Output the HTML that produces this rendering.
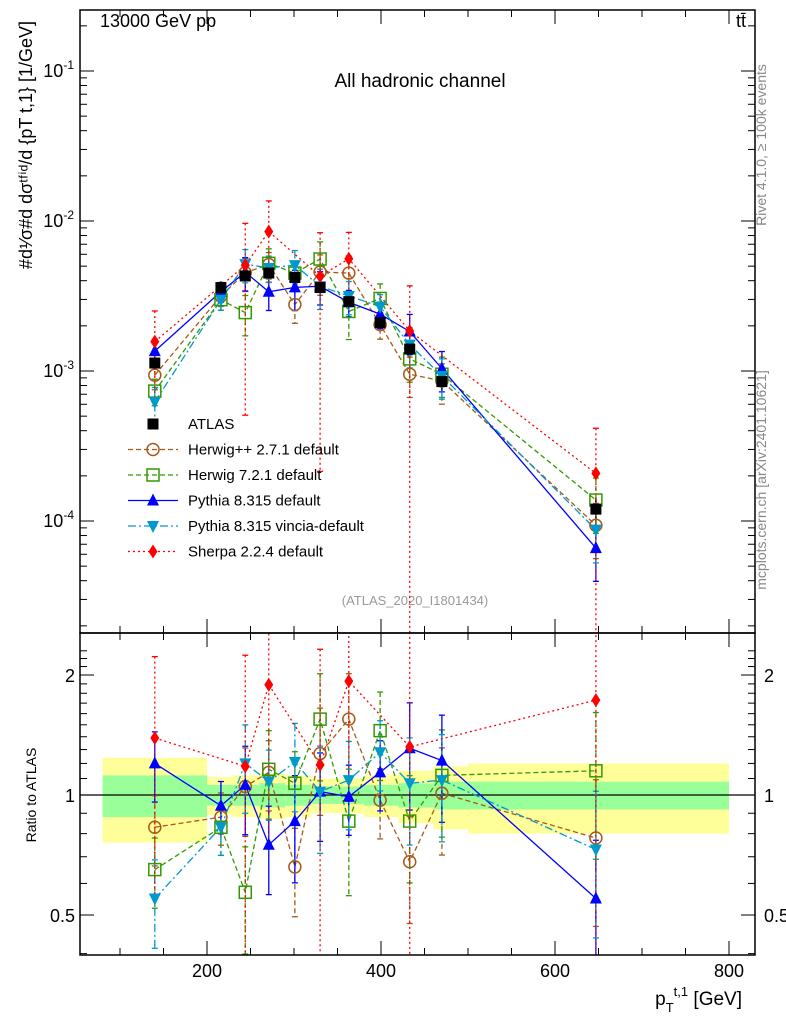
<!DOCTYPE html>
<html><head><meta charset="utf-8"><style>
html,body{margin:0;background:#fff;width:786px;height:1024px;overflow:hidden}
svg{font-family:"Liberation Sans",sans-serif;display:block}
</style></head><body>
<svg id="c" width="786" height="1024" xmlns="http://www.w3.org/2000/svg">
<text x="100" y="27" font-size="18">13000 GeV pp</text>
<text x="736" y="27" font-size="18">tt̄</text>
<text x="420" y="87" font-size="19" text-anchor="middle">All hadronic channel</text>
<text x="415" y="605" font-size="13" fill="#999" text-anchor="middle">(ATLAS_2020_I1801434)</text>
<text transform="translate(766,145) rotate(-90)" font-size="14" fill="#888" text-anchor="middle">Rivet 4.1.0, ≥ 100k events</text>
<text transform="translate(766,480) rotate(-90)" font-size="14" fill="#888" text-anchor="middle">mcplots.cern.ch [arXiv:2401.10621]</text>
<text transform="translate(32,145) rotate(-90)" font-size="18" text-anchor="middle">#d¹⁄σ#d dσᵗᶠⁱᵈ/d {pT t,1} [1/GeV]</text>
<text transform="translate(36,795) rotate(-90)" font-size="14" text-anchor="middle">Ratio to ATLAS</text>
<text x="742" y="1005" font-size="19" text-anchor="end">p<tspan font-size="13" dy="7">T</tspan><tspan font-size="13" dy="-16">t,1</tspan><tspan dy="9"> [GeV]</tspan></text>
<g id="g"></g>
</svg>
<script>
const xs=[140,216,244,271,301,330,363,399,433,470,647];
const atlas=[1.13e-3,3.6e-3,4.3e-3,4.5e-3,4.2e-3,3.6e-3,2.9e-3,2.1e-3,1.4e-3,8.5e-4,1.2e-4];
const atlasErr=[0.1,0.1,0.1,0.08,0.08,0.08,0.08,0.08,0.1,0.12,0.2];
const rHerwigpp=[0.83,0.88,1.05,1.14,0.66,1.27,1.55,0.97,0.68,1.01,0.78];
const rHerwig7=[0.65,0.83,0.57,1.16,1.07,1.55,0.86,1.45,0.86,1.12,1.15];
const rPythia=[1.20,0.94,1.06,0.75,0.86,1.02,0.99,1.14,1.31,1.22,0.55];
const rVincia=[0.55,0.83,1.20,1.08,1.21,1.02,1.09,1.28,1.07,1.09,0.73];
const rSherpa=[1.39,null,1.18,1.89,null,1.19,1.93,null,1.32,null,1.73];
const eHerwigpp=[0.2,0.15,0.25,0.2,0.25,0.3,0.3,0.2,0.3,0.3,0.4];
const eHerwig7=[0.2,0.15,0.3,0.25,0.2,0.3,0.35,0.25,0.3,0.3,0.4];
const ePythia=[0.2,0.15,0.25,0.25,0.3,0.25,0.2,0.2,0.3,0.3,0.4];
const eVincia=[0.25,0.15,0.25,0.2,0.25,0.3,0.25,0.2,0.3,0.3,0.4];
const eSherpa=[0.6,0,0.9,0.6,0,0.95,0.5,0,1.0,0,1.0];
const bandEdges=[80,200,230,260,290,320,350,380,420,460,500,800];
const bandInner=[0.12,0.06,0.06,0.07,0.06,0.05,0.05,0.06,0.07,0.08,0.08];
const bandOuter=[0.24,0.11,0.12,0.13,0.12,0.10,0.10,0.12,0.15,0.18,0.2];
const xTicks=[200,400,600,800];
const ratioTicks=[0.5,1,2];

const NS="http://www.w3.org/2000/svg",G=document.getElementById('g');
const L=80,R=755,T=10,MB=633,B=955;
const X=v=>207+(v-200)*0.87;
const Y=v=>71-(Math.log10(v)+1)*150;
const YR=r=>795-Math.log2(r)*120;
function el(t,a,p){const e=document.createElementNS(NS,t);for(const k in a)e.setAttribute(k,a[k]);(p||G).appendChild(e);return e;}
for(let i=0;i<bandInner.length;i++){
 const x0=X(bandEdges[i]),x1=X(bandEdges[i+1]);
 const o=el('rect',{x:x0,y:YR(1+bandOuter[i]),width:x1-x0,height:YR(1-bandOuter[i])-YR(1+bandOuter[i]),fill:'#ffff99'});
 
 
 const n=el('rect',{x:x0,y:YR(1+bandInner[i]),width:x1-x0,height:YR(1-bandInner[i])-YR(1+bandInner[i]),fill:'#99ff99'});
 
 
}
el('line',{x1:L,x2:R,y1:795,y2:795,stroke:'#000','stroke-width':1.2});
const ser=[
 {n:'herwigpp',r:rHerwigpp,e:eHerwigpp,c:'#a65a1a',d:'5,3',m:'circle',lab:'Herwig++ 2.7.1 default'},
 {n:'herwig7',r:rHerwig7,e:eHerwig7,c:'#339900',d:'5,3',m:'square',lab:'Herwig 7.2.1 default'},
 {n:'pythia',r:rPythia,e:ePythia,c:'#0000ff',d:'',m:'up',lab:'Pythia 8.315 default'},
 {n:'vincia',r:rVincia,e:eVincia,c:'#0099cc',d:'8,3,2,3',m:'down',lab:'Pythia 8.315 vincia-default'},
 {n:'sherpa',r:rSherpa,e:eSherpa,c:'#ff0000',d:'2,3',m:'diamond',lab:'Sherpa 2.2.4 default'}];
function mark(m,x,y,c,name){
 let e;
 if(m=='circle')e=el('circle',{cx:x,cy:y,r:6,fill:'none',stroke:c,'stroke-width':1.5});
 else if(m=='square')e=el('rect',{x:x-6,y:y-6,width:12,height:12,fill:'none',stroke:c,'stroke-width':1.5});
 else if(m=='fsquare')e=el('rect',{x:x-5.5,y:y-5.5,width:11,height:11,fill:c});
 else if(m=='up')e=el('path',{d:`M${x},${y-7}L${x+6},${y+5}L${x-6},${y+5}Z`,fill:c});
 else if(m=='down')e=el('path',{d:`M${x},${y+7}L${x+6},${y-5}L${x-6},${y-5}Z`,fill:c});
 else e=el('path',{d:`M${x},${y-7}L${x+4.5},${y}L${x},${y+7}L${x-4.5},${y}Z`,fill:c});
 
 
}
const clipM=el('clipPath',{id:'cm'});el('rect',{x:L,y:T,width:R-L,height:MB-T},clipM);
const clipR=el('clipPath',{id:'cr'});el('rect',{x:L,y:MB,width:R-L,height:B-MB},clipR);
const gm=el('g',{'clip-path':'url(#cm)'}),gr=el('g',{'clip-path':'url(#cr)'});
atlas.forEach((v,i)=>{const x=X(xs[i]);el('line',{x1:x,x2:x,y1:Y(v*(1+atlasErr[i])),y2:Y(v*(1-atlasErr[i])),stroke:'#000','stroke-width':1.5},gm);});
ser.forEach(s=>{
 for(const [g,f] of [[gm,(i)=>Y(atlas[i]*s.r[i])],[gr,(i)=>YR(s.r[i])]]){
  let pts=[];
  s.r.forEach((r,i)=>{if(r==null)return;const x=X(xs[i]);pts.push(x+','+f(i));
   const up=r*(1+s.e[i]),dn=Math.max(r*(1-s.e[i]),0.01);
   const y1=g===gm?Y(atlas[i]*up):YR(up),y2=g===gm?Y(atlas[i]*dn):YR(dn);
   el('line',{x1:x,x2:x,y1:y1,y2:y2,stroke:s.c,'stroke-width':1.3,'stroke-dasharray':s.d},g);
   el('line',{x1:x-3,x2:x+3,y1:y1,y2:y1,stroke:s.c,'stroke-width':1.3},g);
   el('line',{x1:x-3,x2:x+3,y1:y2,y2:y2,stroke:s.c,'stroke-width':1.3},g);});
  const pl=el('polyline',{points:pts.join(' '),fill:'none',stroke:s.c,'stroke-width':1.3,'stroke-dasharray':s.d},g);
  
  
  s.r.forEach((r,i)=>{if(r==null)return;mark(s.m,X(xs[i]),f(i),s.c,s.n+'-point');});
 }
});
atlas.forEach((v,i)=>mark('fsquare',X(xs[i]),Y(v),'#000','atlas-point'));
const lg=[['ATLAS','#000','','fsquare'],...ser.map(s=>[s.lab,s.c,s.d,s.m])];
lg.forEach((l,i)=>{const y=424+i*25.5;
 if(i>0)el('line',{x1:128,x2:178,y1:y,y2:y,stroke:l[1],'stroke-width':1.3,'stroke-dasharray':l[2]});
 mark(l[3],153,y,l[1],'legend-marker');
 const t=el('text',{x:188,y:y+5,'font-size':15});t.textContent=l[0];
 
 });
el('rect',{x:L,y:T,width:R-L,height:MB-T,fill:'none',stroke:'#000','stroke-width':1.5});
el('rect',{x:L,y:MB,width:R-L,height:B-MB,fill:'none',stroke:'#000','stroke-width':1.5});
for(let v=100;v<=800;v+=50){const x=X(v);if(x<L||x>R)continue;const big=v%200==0;
 for(const [yb,yt] of [[MB,T],[B,MB]]){el('line',{x1:x,x2:x,y1:yb,y2:yb-(big?14:7),stroke:'#000'});el('line',{x1:x,x2:x,y1:yt,y2:yt+(big?14:7),stroke:'#000'});}}
xTicks.forEach(v=>{const t=el('text',{x:X(v),y:977,'font-size':18,'text-anchor':'middle'});t.textContent=v;
 });
for(let e=-5;e<=-1;e++)for(let k=1;k<10;k++){const y=Y(k*Math.pow(10,e));if(y<T||y>MB)continue;const w=k==1?14:7;
 el('line',{x1:L,x2:L+w,y1:y,y2:y,stroke:'#000'});el('line',{x1:R,x2:R-w,y1:y,y2:y,stroke:'#000'});}
[-1,-2,-3,-4].forEach(e=>{const t=el('text',{x:74,y:Y(Math.pow(10,e))+6,'font-size':18,'text-anchor':'end'});
 t.innerHTML='10<tspan font-size="12" dy="-8">'+e+'</tspan>';
 });
for(let r=0.4;r<=2.4;r+=0.1){const y=YR(r);if(y<MB||y>B)continue;const big=[0.5,1,2].some(q=>Math.abs(q-r)<1e-6);const w=big?14:7;
 el('line',{x1:L,x2:L+w,y1:y,y2:y,stroke:'#000'});el('line',{x1:R,x2:R-w,y1:y,y2:y,stroke:'#000'});}
ratioTicks.forEach(r=>{for(const [x,a] of [[75,'end'],[764,'start']]){const t=el('text',{x:x,y:YR(r)+7,'font-size':18,'text-anchor':a});t.textContent=r;
 }});
</script>
</body></html>
